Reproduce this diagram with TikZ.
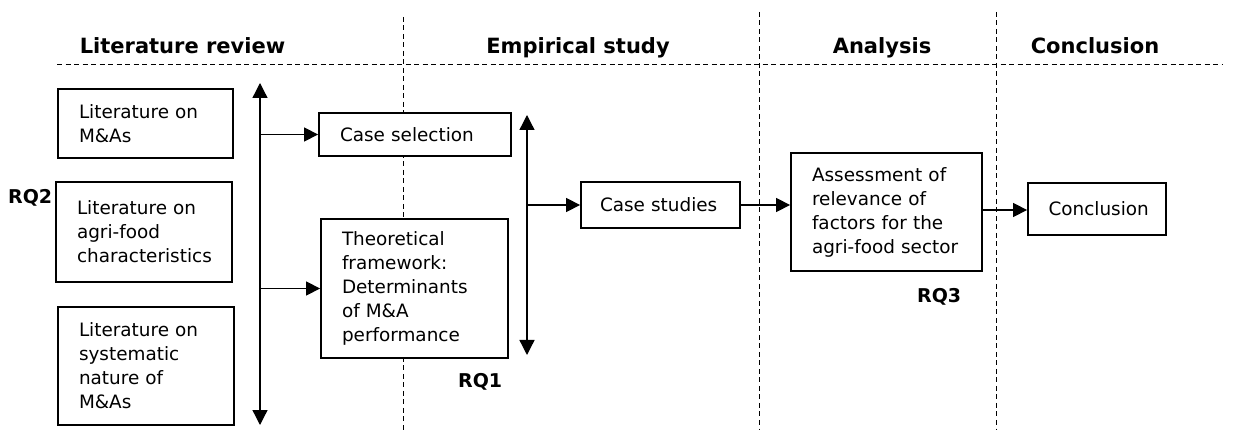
\documentclass[tikz,border=0pt]{standalone}
\usepackage{fontspec}
\setmainfont{DejaVu Sans}
\usetikzlibrary{arrows.meta}
\hyphenpenalty=10000
\begin{document}
\begin{tikzpicture}[x=1pt,y=-1pt,
  box/.style={draw, line width=1.8pt, fill=white, rectangle, align=left,
    inner xsep=21pt, inner ysep=0pt, font=\fontsize{18.4}{24}\selectfont},
  head/.style={font=\fontsize{21}{24}\selectfont\bfseries, anchor=base, inner sep=0pt},
  rq/.style={font=\fontsize{19}{22}\selectfont\bfseries, anchor=base west, inner sep=0pt},
  divider/.style={dash pattern=on 5pt off 3.5pt, line width=1pt},
  arr/.style={-{Triangle[length=14pt,width=14pt]}, line width=1.3pt},
  darr/.style={{Triangle[length=15pt,width=15pt]}-{Triangle[length=15pt,width=15pt]}, line width=1.3pt}]

\useasboundingbox (0,0) rectangle (1251,430);

% phase dividers
\draw[divider] (57,65) -- (1222,65);
\draw[divider] (403,17) -- (403,430);
\draw[divider] (759,12) -- (759,430);
\draw[divider] (996,12) -- (996,430);

% phase headings
\node[head] (hlit) at (182.5,54) {Literature review};
\node[head] (hemp) at (578,54) {Empirical study};
\node[head] (hana) at (882,54) {Analysis};
\node[head] (hcon) at (1095,54) {Conclusion};

% literature boxes
\node[box, text width=133pt, minimum height=69pt] (m1) at (145.5,123.5) {Literature on\\M\&As};
\node[box, text width=134pt, minimum height=100pt] (m2) at (144,232) {Literature on\\agri-food\\characteristics};
\node[box, text width=134pt, minimum height=118pt] (m3) at (146,366) {Literature on\\systematic\\nature of\\M\&As};

% empirical study
\node[box, text width=150pt, minimum height=43pt] (cs) at (415,134.5) {Case selection};
\node[box, text width=145pt, minimum height=139pt] (tf) at (414.5,288.5) {Theoretical\\framework:\\Determinants\\of M\&A\\performance};
\node[box, text width=121pt, inner xsep=19pt, minimum height=46pt] (st) at (660.5,205) {\mbox{Case studies}};

% analysis and conclusion
\node[box, text width=149pt, minimum height=118pt] (as) at (886.5,212) {Assessment of\\relevance of\\factors for the\\agri-food sector};
\node[box, text width=97pt, minimum height=52pt, inner xsep=20.5pt] (cn) at (1097,209) {Conclusion};

% research questions
\node[rq] (rq2) at (8,204) {RQ2};
\node[rq] (rq1) at (458,388) {RQ1};
\node[rq] (rq3) at (917,303) {RQ3};

% collecting arrows
\coordinate (v1t) at (260,83);
\coordinate (v1b) at (260,425);
\coordinate (v2t) at (527,115);
\coordinate (v2b) at (527,355);
\draw[darr] (v1t) -- (v1b);
\draw[darr] (v2t) -- (v2b);

% flow arrows
\draw[arr] (v1t |- cs.west) -- (cs.west);
\draw[arr] (v1t |- tf.west) -- (tf.west);
\draw[arr] (v2t |- st.west) -- (st.west);
\draw[arr] (st.east) -- (st.east -| as.west);
\draw[arr] ([yshift=2pt]as.east) -- ([yshift=2pt]as.east -| cn.west);

\end{tikzpicture}
\end{document}
